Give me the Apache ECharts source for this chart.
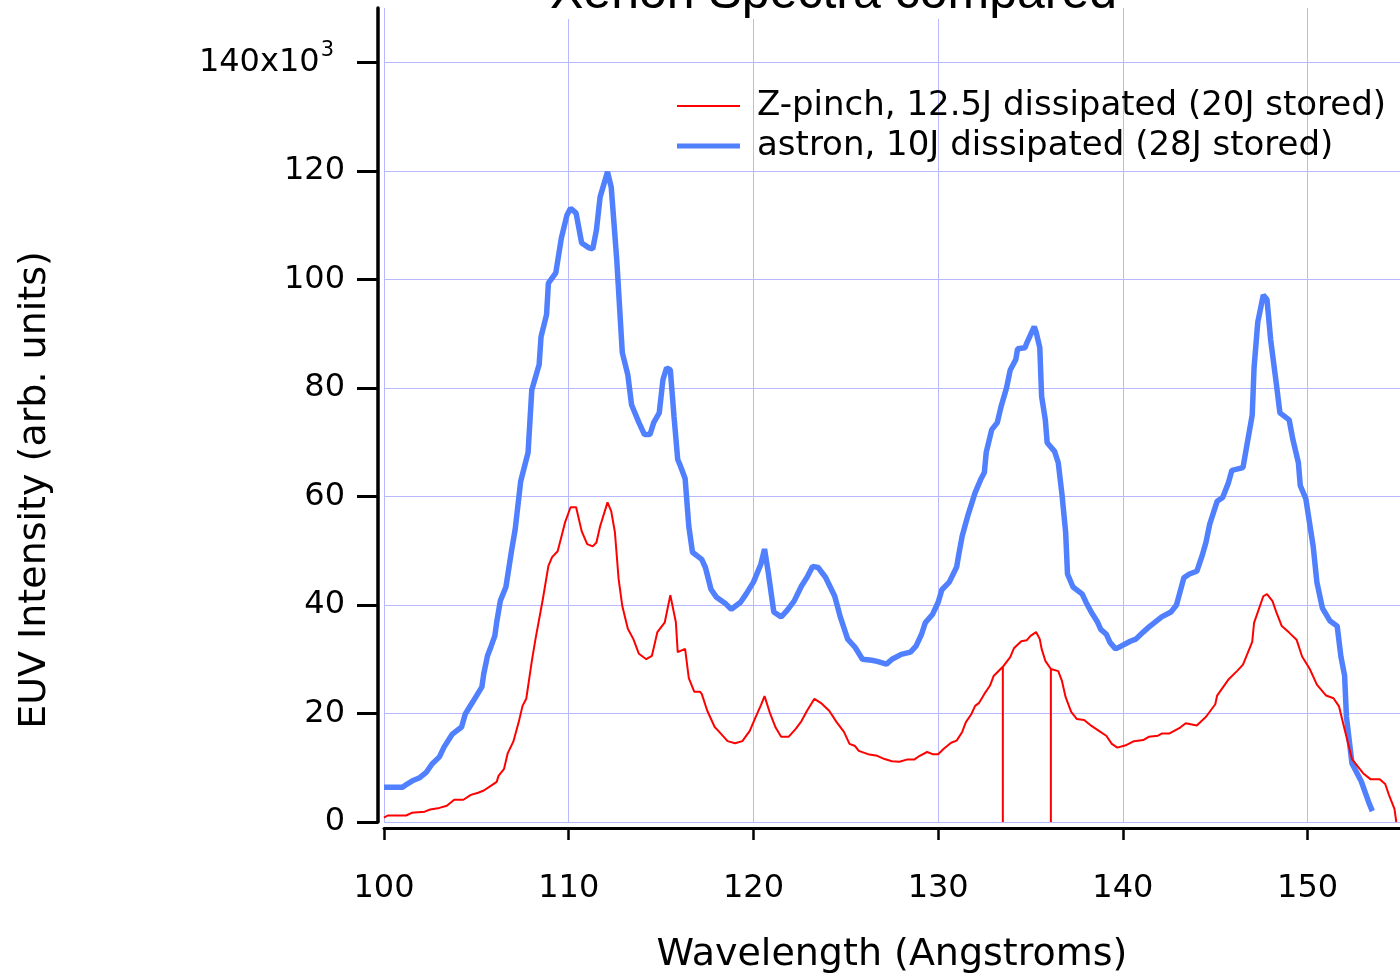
<!DOCTYPE html>
<html>
<head>
<meta charset="utf-8">
<script src="https://cdn.jsdelivr.net/npm/echarts@6/dist/echarts.min.js"></script>
<style>html,body{margin:0;padding:0;background:#fff}#c{width:1400px;height:979px}</style>
</head>
<body>
<div id="c"></div>
<script>
const titleText = 'Xenon Spectra compared';
const xTitle = 'Wavelength (Angstroms)';
const yTitle = 'EUV Intensity (arb. units)';
const seriesNames = ['Z-pinch, 12.5J dissipated (20J stored)', 'astron, 10J dissipated (28J stored)'];
const xTicks = [100, 110, 120, 130, 140, 150];
const yTicks = [0, 20, 40, 60, 80, 100, 120, 140];

// astron (blue), wavelength in Angstroms, intensity in 10^3 arb. units
const astronWl = [100.0,100.5,101.0,101.25,101.6,101.9,102.3,102.6,103.0,103.25,103.7,104.2,104.4,104.8,105.3,105.4,105.6,105.8,106.0,106.1,106.3,106.6,106.9,107.1,107.4,107.8,108.0,108.4,108.5,108.8,108.9,109.3,109.6,109.9,110.1,110.4,110.7,111.1,111.3,111.5,111.7,112.1,112.3,112.6,112.9,113.2,113.4,113.8,114.1,114.4,114.6,114.9,115.1,115.3,115.5,115.7,115.9,116.0,116.3,116.5,116.7,117.2,117.4,117.7,118.0,118.5,118.8,119.3,119.6,120.0,120.4,120.6,120.8,121.1,121.5,121.8,122.2,122.6,122.9,123.2,123.5,123.9,124.4,124.7,125.1,125.5,125.9,126.4,126.7,127.2,127.5,128.0,128.5,128.8,129.1,129.3,129.7,130.0,130.2,130.6,131.0,131.1,131.3,131.6,132.0,132.3,132.5,132.6,132.9,133.2,133.4,133.7,133.9,134.2,134.3,134.7,134.8,135.2,135.3,135.5,135.6,135.8,135.9,136.3,136.5,136.7,136.9,137.0,137.3,137.8,138.0,138.3,138.6,138.8,139.1,139.3,139.6,139.9,140.4,140.7,141.1,141.4,142.1,142.6,142.9,143.3,143.6,144.0,144.3,144.5,144.7,145.1,145.4,145.7,145.9,146.5,146.7,147.0,147.1,147.3,147.6,147.8,148.0,148.3,148.5,149.0,149.2,149.5,149.6,149.9,150.3,150.5,150.8,151.2,151.6,151.8,152.0,152.1,152.4,152.9,153.3,153.5];
const astronI = [6.4,6.4,6.4,7.0,7.7,8.1,9.2,10.7,12.0,13.8,16.2,17.5,19.9,22.1,24.9,27.3,30.6,32.4,34.3,36.8,40.8,43.3,49.9,53.9,62.8,68.1,79.6,84.3,89.4,93.5,99.3,101.2,107.6,111.8,113.1,112.2,106.7,105.8,105.6,109.1,115.2,119.8,117.0,103.6,86.5,82.4,76.9,73.6,71.4,71.4,73.6,75.4,81.5,83.7,83.3,74.7,66.8,66.0,63.3,54.5,49.7,48.4,46.9,42.9,41.4,40.2,39.2,40.5,42.0,44.2,47.5,50.3,46.0,38.7,37.8,38.9,40.7,43.5,45.1,47.1,46.9,45.1,41.6,37.8,33.7,32.2,30.0,29.8,29.6,29.1,30.0,30.9,31.3,32.4,34.6,36.7,38.3,40.5,42.8,44.2,47.0,49.0,52.7,56.4,60.7,63.1,64.4,68.1,72.3,73.6,76.5,80.0,83.3,85.2,87.2,87.4,88.3,91.3,90.3,87.4,78.4,74.1,69.9,68.3,66.2,60.4,53.4,45.7,43.3,42.0,40.5,38.6,37.0,35.5,34.6,33.1,31.9,32.4,33.3,33.7,35.0,35.9,37.8,38.7,40.0,45.0,45.7,46.2,49.2,51.6,54.9,59.1,59.8,62.4,64.8,65.3,69.2,75.0,83.7,92.1,97.1,96.3,88.8,80.9,75.4,74.1,70.5,66.2,62.0,59.6,50.8,44.2,39.4,37.1,36.1,30.5,27.0,19.4,10.8,7.5,3.7,2.0];

// Z-pinch (red)
const zpinchWl = [100.0,100.2,101.2,101.5,102.2,102.5,103.0,103.4,103.8,104.3,104.7,105.1,105.4,105.8,106.1,106.2,106.5,106.7,107.0,107.3,107.5,107.7,108.0,108.2,108.6,108.9,109.1,109.4,109.6,109.8,110.1,110.4,110.7,111.0,111.3,111.5,111.7,112.1,112.3,112.5,112.7,112.9,113.2,113.5,113.8,114.2,114.5,114.8,115.2,115.5,115.8,115.9,116.3,116.5,116.8,117.1,117.2,117.5,117.9,118.1,118.6,119.0,119.4,119.8,120.1,120.4,120.6,120.9,121.2,121.5,121.9,122.3,122.6,122.9,123.3,123.7,124.1,124.5,124.9,125.2,125.5,125.7,126.2,126.7,127.1,127.5,127.9,128.3,128.7,129.0,129.4,129.7,130.0,130.3,130.7,131.0,131.3,131.5,131.8,132.0,132.2,132.5,132.8,133.0,133.5,133.5,133.5,133.9,134.1,134.5,134.8,135.0,135.3,135.5,135.6,135.8,136.1,136.1,136.1,136.5,136.7,136.9,137.2,137.5,137.9,138.3,138.7,139.1,139.4,139.7,140.2,140.6,141.1,141.4,141.9,142.1,142.5,143.1,143.4,144.0,144.5,145.0,145.1,145.7,146.2,146.5,147.0,147.1,147.6,147.8,148.1,148.3,148.6,149.0,149.4,149.7,150.1,150.5,151.0,151.4,151.7,152.0,152.4,153.0,153.4,153.9,154.2,154.4,154.7,154.8];
const zpinchI = [0.8,1.2,1.2,1.7,1.9,2.3,2.6,3.0,4.1,4.1,5.0,5.4,5.8,6.7,7.4,8.5,9.8,12.7,14.8,18.5,21.4,22.7,29.6,33.7,41.1,47.2,48.8,49.9,52.5,55.2,58.0,58.0,53.6,51.2,50.8,51.5,54.5,58.9,57.3,53.4,44.8,39.8,35.6,33.7,31.0,30.0,30.6,35.0,36.8,41.8,36.8,31.3,31.9,26.5,24.0,24.0,23.6,20.5,17.5,16.8,14.9,14.5,14.9,16.8,19.2,21.5,23.2,20.0,17.4,15.7,15.7,17.2,18.6,20.5,22.7,21.8,20.5,18.4,16.6,14.4,14.0,13.1,12.5,12.2,11.6,11.2,11.1,11.5,11.5,12.2,12.9,12.5,12.5,13.5,14.6,15.0,16.6,18.4,19.9,21.4,21.9,23.6,25.1,26.9,28.6,0,28.6,30.4,32.0,33.3,33.5,34.3,35.0,33.7,31.9,29.7,28.2,0,28.2,27.8,26.0,23.0,20.3,19.0,18.8,17.7,16.8,15.9,14.4,13.7,14.2,14.9,15.1,15.7,15.9,16.3,16.3,17.4,18.2,17.8,19.4,21.7,23.3,26.2,27.9,29.0,33.2,36.7,41.6,42.0,40.7,38.7,36.1,34.9,33.6,30.5,28.3,25.3,23.3,22.8,21.3,17.1,11.6,9.0,7.9,7.9,7.0,5.0,2.4,0];

const zip = (xs, ys) => xs.map((x, i) => [x, ys[i]]);
const FONT = 'DejaVu Sans';
const RED = '#ff0000';
const BLUE = '#5180ff';
const GRID = '#b8b8ff';

const chart = echarts.init(document.getElementById('c'), null, {renderer: 'canvas'});
chart.setOption({
  animation: false,
  backgroundColor: '#fff',
  title: {
    text: titleText,
    left: 550, top: -31,
    padding: 0,
    backgroundColor: '#fff',
    textStyle: {fontFamily: 'Liberation Sans', fontSize: 50, fontWeight: 'normal', color: '#000'}
  },
  legend: {
    orient: 'vertical',
    left: 677, top: 89,
    padding: 0,
    itemWidth: 63, itemHeight: 14, itemGap: 6,
    selectedMode: false,
    data: [
      {name: seriesNames[0], icon: 'path://M0,0H63V2H0Z', itemStyle: {color: RED, borderWidth: 0}},
      {name: seriesNames[1], icon: 'path://M0,0H63V5H0Z', itemStyle: {color: BLUE, borderWidth: 0}}
    ],
    textStyle: {fontFamily: FONT, fontSize: 34, lineHeight: 34, color: '#000', padding: [0, 0, 0, 12]}
  },
  grid: {left: 384, right: 0, top: 8, bottom: 156, containLabel: false},
  xAxis: {
    type: 'value', min: 100, max: 155, interval: 10,
    offset: 6,
    name: xTitle, nameLocation: 'middle', nameGap: 108,
    nameTextStyle: {fontFamily: FONT, fontSize: 38, color: '#000'},
    axisLine: {show: true, onZero: false, lineStyle: {color: '#000', width: 3}},
    axisTick: {show: true, length: 12, lineStyle: {color: '#000', width: 2.5}, customValues: xTicks},
    axisLabel: {fontFamily: FONT, fontSize: 32, color: '#000', margin: 45, customValues: xTicks},
    splitLine: {show: true, lineStyle: {color: GRID, width: 1}}
  },
  yAxis: {
    type: 'value', min: 0, max: 150, interval: 20,
    offset: 6,
    axisLine: {show: true, onZero: false, lineStyle: {color: '#000', width: 3.5}},
    axisTick: {show: true, length: 21, lineStyle: {color: '#000', width: 3}, customValues: yTicks},
    axisLabel: {
      fontFamily: FONT, fontSize: 32, color: '#000', margin: 33, customValues: yTicks,
      formatter: v => v === 140 ? '{n|140x10}{s|3}' : String(v),
      rich: {
        n: {fontFamily: FONT, fontSize: 32, color: '#000'},
        s: {fontFamily: FONT, fontSize: 21, color: '#000', verticalAlign: 'top', padding: [0, 11, 24, 1]}
      }
    },
    splitLine: {show: true, lineStyle: {color: GRID, width: 1}}
  },
  graphic: [{
    type: 'text', x: 35, y: 490, rotation: Math.PI / 2,
    style: {text: yTitle, fontFamily: FONT, fontSize: 38, fill: '#000', align: 'center', verticalAlign: 'middle', textAlign: 'center', textVerticalAlign: 'middle'}
  }],
  series: [
    {
      name: seriesNames[0], type: 'line', data: zip(zpinchWl, zpinchI),
      showSymbol: false, symbol: 'none', z: 3,
      lineStyle: {color: RED, width: 2}, itemStyle: {color: RED},
      emphasis: {disabled: true}
    },
    {
      name: seriesNames[1], type: 'line', data: zip(astronWl, astronI),
      showSymbol: false, symbol: 'none', z: 2,
      lineStyle: {color: BLUE, width: 5.5}, itemStyle: {color: BLUE},
      emphasis: {disabled: true}
    }
  ]
});
</script>
</body>
</html>
